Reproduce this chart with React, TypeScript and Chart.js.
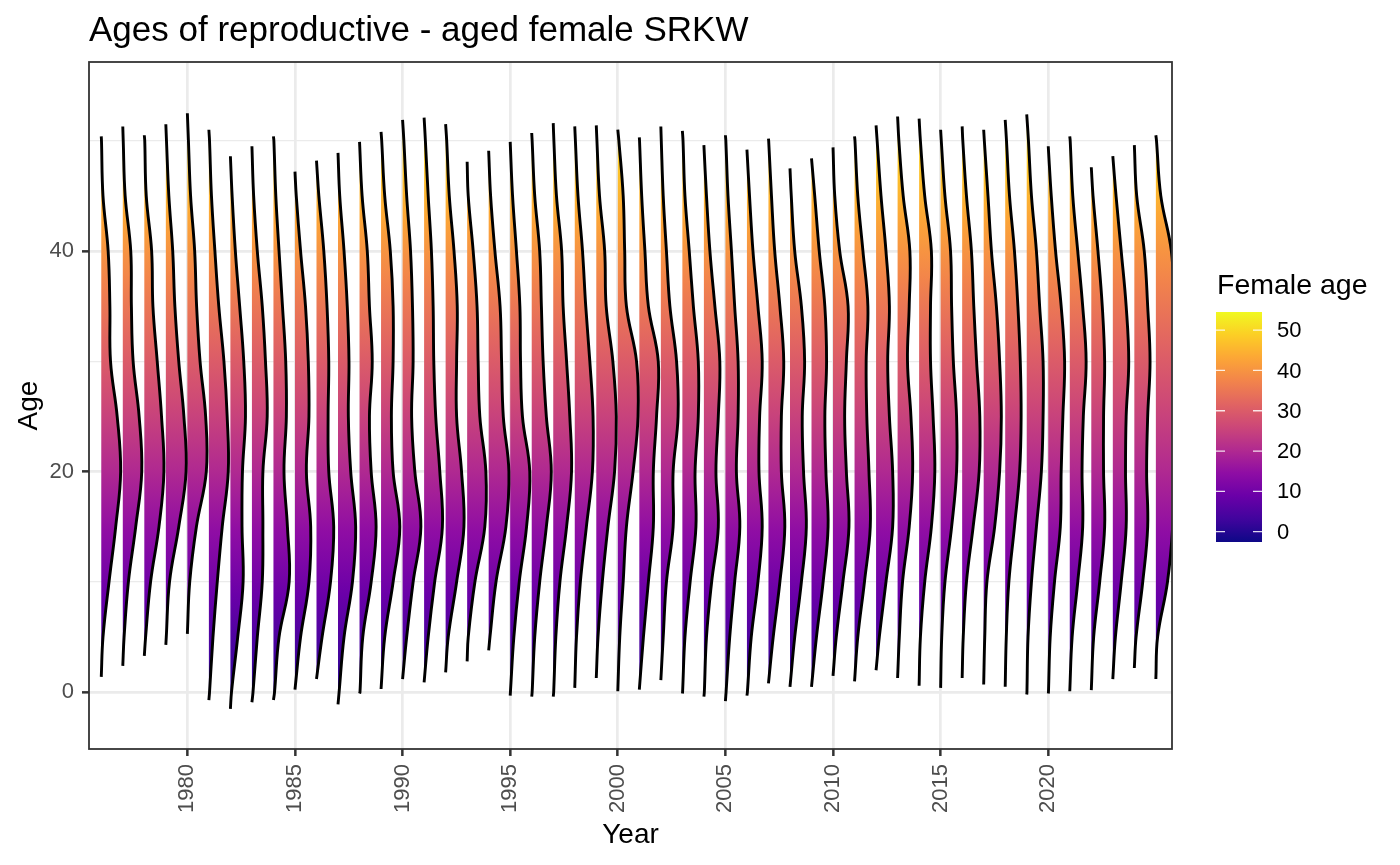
import React, { useEffect, useRef } from 'react';
import { Chart, registerables } from 'chart.js';

Chart.register(...registerables);

const TITLE = 'Ages of reproductive - aged female SRKW';
const X_TITLE = 'Year';
const Y_TITLE = 'Age';
const LEGEND_TITLE = 'Female age';

const years = [
  1976, 1977, 1978, 1979, 1980, 1981, 1982, 1983, 1984, 1985,
  1986, 1987, 1988, 1989, 1990, 1991, 1992, 1993, 1994, 1995,
  1996, 1997, 1998, 1999, 2000, 2001, 2002, 2003, 2004, 2005,
  2006, 2007, 2008, 2009, 2010, 2011, 2012, 2013, 2014, 2015,
  2016, 2017, 2018, 2019, 2020, 2021, 2022, 2023, 2024, 2025,
];

// youngest / oldest end of each year's density curve (age)
const minAges = [
  1.4, 2.4, 3.3, 4.3, 5.3, -0.7, -1.5, -0.9, -0.7, 0.25,
  1.2, -1.1, -0.1, 0.3, 1.2, 0.9, 1.8, 2.8, 3.8, -0.3,
  -0.4, -0.4, 0.4, 1.3, 0.1, 0.25, 1.1, -0.1, -0.4, -0.8,
  -0.3, 0.8, 0.5, 0.5, 1.5, 1.0, 2.0, 1.3, 0.6, 0.4,
  1.3, 0.7, 0.5, -0.2, -0.1, 0.1, 0.2, 1.2, 2.2, 1.2,
];
const maxAges = [
  50.4, 51.3, 50.5, 51.5, 52.5, 51.0, 48.6, 49.5, 50.4, 47.2,
  48.2, 48.9, 49.9, 50.8, 51.9, 52.1, 51.5, 48.1, 49.1, 49.9,
  50.7, 51.6, 51.3, 51.4, 51.0, 50.3, 51.3, 50.9, 49.6, 50.5,
  49.2, 50.2, 47.5, 48.4, 49.4, 50.4, 51.4, 52.2, 52.0, 51.0,
  51.3, 51.0, 51.9, 52.4, 49.5, 50.4, 47.6, 48.6, 49.6, 50.5,
];

// ages at which the ridge width was read
const gridAges = [0, 5, 10, 15, 20, 25, 30, 35, 40, 45, 50];

// scaled density (ridge width, in years) at each grid age; null = outside the curve
const ridgeWidths: (number | null)[][] = [
  [null, 0.08, 0.36, 0.67, 0.90, 0.74, 0.43, 0.40, 0.32, 0.08, 0.01],
  [null, 0.06, 0.26, 0.60, 0.88, 0.76, 0.48, 0.40, 0.37, 0.11, 0.02],
  [null, 0.06, 0.29, 0.68, 0.91, 0.80, 0.60, 0.40, 0.34, 0.09, 0.02],
  [null, 0.02, 0.17, 0.60, 0.94, 0.84, 0.60, 0.42, 0.32, 0.14, 0.03],
  [null, null, 0.11, 0.42, 0.88, 0.85, 0.59, 0.43, 0.34, 0.15, 0.05],
  [0.03, 0.19, 0.39, 0.62, 0.90, 0.85, 0.70, 0.46, 0.28, 0.12, 0.03],
  [0.05, 0.34, 0.59, 0.54, 0.56, 0.70, 0.62, 0.43, 0.23, 0.08, null],
  [0.05, 0.25, 0.48, 0.51, 0.51, 0.71, 0.63, 0.48, 0.25, 0.08, null],
  [0.05, 0.26, 0.73, 0.65, 0.49, 0.60, 0.57, 0.42, 0.26, 0.11, 0.02],
  [null, 0.26, 0.65, 0.73, 0.53, 0.65, 0.62, 0.49, 0.26, 0.06, null],
  [null, 0.26, 0.65, 0.80, 0.57, 0.54, 0.57, 0.49, 0.34, 0.11, null],
  [0.05, 0.28, 0.67, 0.82, 0.59, 0.48, 0.51, 0.43, 0.28, 0.08, null],
  [0.02, 0.15, 0.54, 0.77, 0.54, 0.46, 0.59, 0.46, 0.36, 0.12, null],
  [null, 0.17, 0.56, 0.87, 0.56, 0.48, 0.56, 0.56, 0.43, 0.17, 0.03],
  [null, 0.19, 0.49, 0.85, 0.57, 0.42, 0.49, 0.46, 0.37, 0.19, 0.06],
  [null, 0.19, 0.49, 0.85, 0.73, 0.54, 0.45, 0.42, 0.34, 0.19, 0.06],
  [null, 0.12, 0.51, 0.85, 0.74, 0.51, 0.51, 0.54, 0.39, 0.17, 0.05],
  [null, 0.05, 0.36, 0.82, 0.87, 0.59, 0.51, 0.46, 0.28, 0.05, null],
  [null, 0.06, 0.34, 0.80, 0.94, 0.68, 0.60, 0.53, 0.29, 0.09, null],
  [0.01, 0.17, 0.42, 0.76, 0.91, 0.57, 0.48, 0.45, 0.29, 0.11, null],
  [0.02, 0.14, 0.37, 0.68, 0.91, 0.68, 0.53, 0.45, 0.37, 0.14, 0.02],
  [0.02, 0.12, 0.31, 0.62, 0.85, 0.77, 0.62, 0.46, 0.39, 0.15, 0.03],
  [null, 0.08, 0.26, 0.54, 0.82, 0.85, 0.70, 0.51, 0.36, 0.15, 0.03],
  [null, 0.08, 0.28, 0.54, 0.85, 0.93, 0.77, 0.46, 0.39, 0.15, 0.03],
  [null, 0.09, 0.25, 0.40, 0.71, 0.94, 0.87, 0.40, 0.32, 0.25, 0.05],
  [null, 0.19, 0.42, 0.65, 0.65, 0.80, 0.88, 0.42, 0.26, 0.11, 0.01],
  [null, 0.11, 0.26, 0.57, 0.57, 0.80, 0.73, 0.42, 0.26, 0.11, 0.02],
  [0.01, 0.12, 0.36, 0.63, 0.59, 0.74, 0.74, 0.51, 0.32, 0.12, 0.03],
  [0.02, 0.12, 0.36, 0.67, 0.56, 0.67, 0.74, 0.51, 0.28, 0.12, null],
  [0.03, 0.20, 0.43, 0.67, 0.51, 0.59, 0.59, 0.43, 0.28, 0.12, 0.02],
  [0.02, 0.20, 0.51, 0.71, 0.56, 0.59, 0.71, 0.51, 0.28, 0.12, null],
  [null, 0.22, 0.53, 0.76, 0.60, 0.60, 0.71, 0.53, 0.29, 0.14, 0.01],
  [null, 0.22, 0.53, 0.76, 0.63, 0.57, 0.68, 0.53, 0.22, 0.06, null],
  [null, 0.23, 0.54, 0.77, 0.67, 0.62, 0.70, 0.62, 0.36, 0.15, null],
  [null, 0.15, 0.46, 0.74, 0.62, 0.54, 0.62, 0.70, 0.31, 0.08, null],
  [null, 0.15, 0.46, 0.73, 0.67, 0.57, 0.54, 0.62, 0.39, 0.15, 0.02],
  [null, 0.15, 0.46, 0.77, 0.77, 0.62, 0.54, 0.62, 0.46, 0.23, 0.05],
  [null, 0.08, 0.23, 0.54, 0.70, 0.62, 0.46, 0.54, 0.57, 0.26, 0.06],
  [null, 0.06, 0.26, 0.57, 0.73, 0.65, 0.53, 0.53, 0.57, 0.26, 0.06],
  [null, 0.05, 0.20, 0.51, 0.74, 0.74, 0.59, 0.51, 0.46, 0.20, 0.03],
  [null, 0.05, 0.20, 0.51, 0.79, 0.82, 0.67, 0.54, 0.43, 0.20, 0.03],
  [null, 0.05, 0.15, 0.51, 0.74, 0.82, 0.74, 0.59, 0.36, 0.20, 0.03],
  [null, 0.05, 0.17, 0.43, 0.67, 0.74, 0.70, 0.59, 0.43, 0.20, 0.06],
  [0.01, 0.06, 0.22, 0.45, 0.68, 0.76, 0.76, 0.60, 0.45, 0.22, 0.08],
  [0.01, 0.09, 0.29, 0.56, 0.60, 0.68, 0.76, 0.60, 0.34, 0.14, null],
  [null, 0.11, 0.37, 0.60, 0.57, 0.63, 0.76, 0.60, 0.37, 0.14, 0.02],
  [null, 0.11, 0.39, 0.62, 0.57, 0.57, 0.62, 0.51, 0.31, 0.08, null],
  [null, 0.12, 0.39, 0.62, 0.59, 0.62, 0.74, 0.62, 0.39, 0.15, null],
  [null, 0.08, 0.39, 0.62, 0.57, 0.62, 0.73, 0.62, 0.46, 0.11, null],
  [null, 0.08, 0.54, 0.78, 0.85, 0.90, 0.92, 0.85, 0.72, 0.23, 0.03],
];

const xTicks = [1980, 1985, 1990, 1995, 2000, 2005, 2010, 2015, 2020];
const yGridTicks = [0, 10, 20, 30, 40, 50];
const yLabelTicks = [0, 20, 40];
const legendTicks = [0, 10, 20, 30, 40, 50];

const X_MIN = 1975.43;
const X_MAX = 2025.75;
const Y_MIN = -5.14;
const Y_MAX = 57.14;
const COLOR_MIN = -2.56;
const COLOR_MAX = 54.5;

const PLASMA = [
  '#0d0887', '#41049d', '#6a00a8', '#8f0da4', '#b12a90', '#cc4778',
  '#e16462', '#f2844b', '#fca636', '#fcce25', '#f0f921',
];

const FONT = '"Liberation Sans", Arial, Helvetica, sans-serif';

function makeGradient(ctx: CanvasRenderingContext2D, yBottom: number, yTop: number) {
  const g = ctx.createLinearGradient(0, yBottom, 0, yTop);
  PLASMA.forEach((c, k) => g.addColorStop(k / (PLASMA.length - 1), c));
  return g;
}

const fillColor = (context: any) => {
  const chart = context.chart;
  if (!chart.chartArea || !chart.scales || !chart.scales.y) return 'rgba(0,0,0,0)';
  const ys = chart.scales.y;
  return makeGradient(chart.ctx, ys.getPixelForValue(COLOR_MIN), ys.getPixelForValue(COLOR_MAX));
};

const decorPlugin = {
  id: 'decor',
  afterDraw(chart: any) {
    const c: CanvasRenderingContext2D = chart.ctx;
    const { left, top, right, bottom } = chart.chartArea;
    c.save();
    // panel border
    c.strokeStyle = '#333333';
    c.lineWidth = 1.8;
    c.strokeRect(left, top, right - left, bottom - top);

    // title
    c.fillStyle = '#000000';
    c.font = `35px ${FONT}`;
    c.textAlign = 'left';
    c.textBaseline = 'alphabetic';
    c.fillText(TITLE, left, 41);

    // colour bar legend
    const bx = 1216;
    const bw = 46;
    const bTop = 312;
    const bBot = 542;
    c.font = `28.5px ${FONT}`;
    c.fillText(LEGEND_TITLE, bx + 1, 294);
    c.fillStyle = makeGradient(c, bBot, bTop);
    c.fillRect(bx, bTop, bw, bBot - bTop);
    const vy = (v: number) => bBot - ((v - COLOR_MIN) / (COLOR_MAX - COLOR_MIN)) * (bBot - bTop);
    c.strokeStyle = 'rgba(255,255,255,0.85)';
    c.lineWidth = 1.3;
    c.font = `22px ${FONT}`;
    c.textBaseline = 'middle';
    legendTicks.forEach((v) => {
      const y = vy(v);
      c.beginPath();
      c.moveTo(bx, y);
      c.lineTo(bx + 9, y);
      c.moveTo(bx + bw - 9, y);
      c.lineTo(bx + bw, y);
      c.stroke();
      c.fillStyle = '#000000';
      c.fillText(String(v), 1277, y + 1);
    });
    c.restore();
  },
};

export default function App() {
  const ref = useRef<HTMLCanvasElement | null>(null);

  useEffect(() => {
    if (!ref.current) return;
    const datasets = years.map((yr, i) => {
      const pts: { x: number; y: number }[] = [{ x: yr, y: minAges[i] }];
      gridAges.forEach((a, j) => {
        const w = ridgeWidths[i][j];
        if (w !== null && a > minAges[i] && a < maxAges[i]) pts.push({ x: yr + w, y: a });
      });
      pts.push({ x: yr, y: maxAges[i] });
      return {
        label: String(yr),
        data: pts,
        fill: { value: yr },
        backgroundColor: fillColor,
        borderColor: '#000000',
        borderWidth: 2.9,
        pointRadius: 0,
        tension: 0.4,
      };
    });

    const chart = new Chart(ref.current, {
      type: 'line',
      data: { datasets: datasets as any },
      plugins: [decorPlugin],
      options: {
        indexAxis: 'y',
        animation: false,
        responsive: false,
        events: [],
        layout: { padding: { left: 0, top: 62, right: 1400 - 1172, bottom: 0 } },
        plugins: {
          legend: { display: false },
          tooltip: { enabled: false },
          title: { display: false },
        },
        scales: {
          x: {
            type: 'linear',
            position: 'bottom',
            min: X_MIN,
            max: X_MAX,
            afterBuildTicks: (s: any) => {
              s.ticks = xTicks.map((v) => ({ value: v }));
            },
            afterFit: (s: any) => {
              s.height = 116;
            },
            ticks: {
              autoSkip: false,
              minRotation: 90,
              maxRotation: 90,
              padding: 8,
              color: '#4D4D4D',
              font: { family: FONT, size: 22 },
              callback: (v: any) => String(v),
            },
            grid: {
              color: '#EBEBEB',
              lineWidth: 2.7,
              drawTicks: true,
              tickLength: 7,
              tickColor: '#333333',
              tickWidth: 2.5,
            },
            border: { display: false },
            title: {
              display: true,
              text: X_TITLE,
              color: '#000000',
              font: { family: FONT, size: 28 },
              padding: { top: 0, bottom: 13 },
            },
          },
          y: {
            type: 'linear',
            position: 'left',
            min: Y_MIN,
            max: Y_MAX,
            afterBuildTicks: (s: any) => {
              s.ticks = yGridTicks.map((v) => ({ value: v }));
            },
            afterFit: (s: any) => {
              s.width = 89;
            },
            ticks: {
              padding: 8,
              color: '#4D4D4D',
              font: { family: FONT, size: 22 },
              callback: (v: any) => (yLabelTicks.includes(Number(v)) ? String(v) : ''),
            },
            grid: {
              color: '#EBEBEB',
              lineWidth: (ctx: any) =>
                ctx.tick && yLabelTicks.includes(ctx.tick.value) ? 2.7 : 1.35,
              drawTicks: true,
              tickLength: 7,
              tickColor: (ctx: any) =>
                ctx.tick && yLabelTicks.includes(ctx.tick.value) ? '#333333' : 'rgba(0,0,0,0)',
              tickWidth: 2.5,
            },
            border: { display: false },
            title: {
              display: true,
              text: Y_TITLE,
              color: '#000000',
              font: { family: FONT, size: 28 },
              padding: { top: 12, bottom: 0 },
            },
          },
        },
      } as any,
    });
    return () => chart.destroy();
  }, []);

  return (
    <div style={{ position: 'absolute', left: 0, top: 0, width: 1400, height: 865, background: '#ffffff' }}>
      <canvas ref={ref} width={1400} height={865} style={{ width: 1400, height: 865, display: 'block' }} />
    </div>
  );
}
